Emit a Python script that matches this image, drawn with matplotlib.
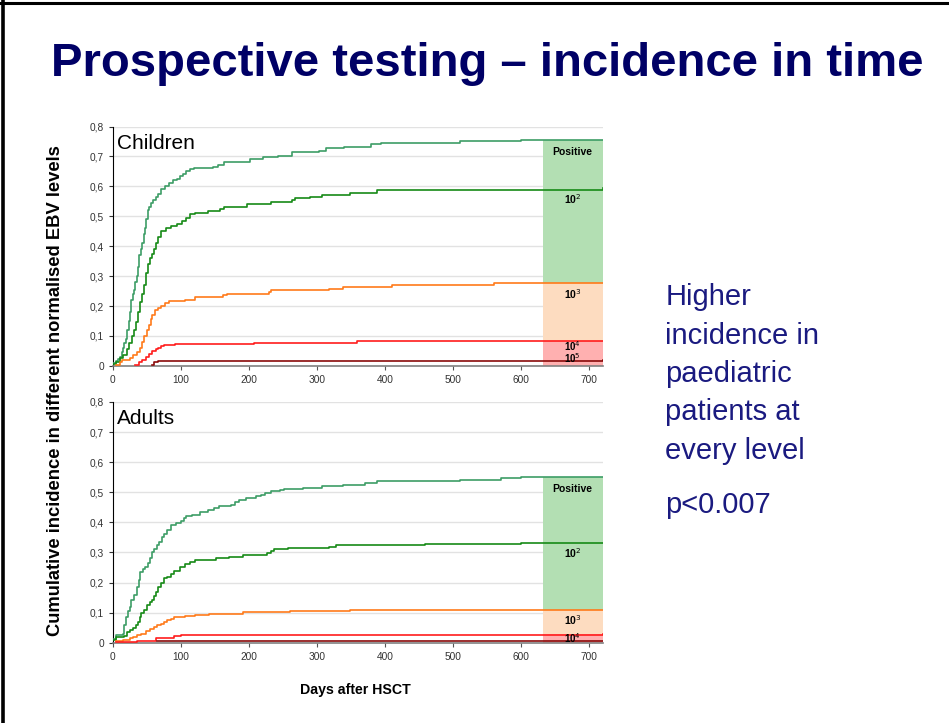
import matplotlib.pyplot as plt
from matplotlib.lines import Line2D

plt.rcParams['font.family'] = ['Liberation Sans', 'DejaVu Sans']

# cumulative incidence step curves (day, value)
child_pos_days = [0, 5, 8, 10, 13, 15, 17, 19, 21, 23, 25, 27, 29, 31, 33, 35, 37, 39, 41, 43, 45, 47, 49, 51, 53, 56, 59, 63, 67, 71, 76, 82, 88, 94, 98, 103, 108, 113, 119, 147, 155, 164, 202, 220, 243, 263, 303, 313, 340, 379, 394, 510, 600, 720]
child_pos_vals = [0.008, 0.015, 0.022, 0.03, 0.045, 0.06, 0.075, 0.09, 0.12, 0.15, 0.18, 0.22, 0.24, 0.255, 0.28, 0.30, 0.33, 0.37, 0.39, 0.41, 0.44, 0.46, 0.49, 0.52, 0.53, 0.545, 0.555, 0.565, 0.575, 0.59, 0.60, 0.61, 0.62, 0.625, 0.635, 0.64, 0.65, 0.657, 0.663, 0.666, 0.672, 0.682, 0.691, 0.699, 0.703, 0.714, 0.719, 0.728, 0.733, 0.74, 0.745, 0.752, 0.755, 0.756]

child_e2_days = [0, 5, 10, 15, 20, 24, 28, 31, 34, 37, 40, 43, 46, 49, 51, 54, 57, 60, 63, 66, 70, 78, 86, 94, 101, 108, 113, 121, 140, 157, 164, 197, 233, 263, 268, 290, 308, 349, 389, 720]
child_e2_vals = [0.005, 0.012, 0.025, 0.035, 0.055, 0.075, 0.10, 0.12, 0.148, 0.18, 0.215, 0.24, 0.27, 0.31, 0.34, 0.36, 0.375, 0.39, 0.41, 0.43, 0.45, 0.46, 0.467, 0.475, 0.484, 0.495, 0.506, 0.512, 0.518, 0.523, 0.532, 0.54, 0.549, 0.553, 0.56, 0.566, 0.572, 0.579, 0.587, 0.594]

child_e3_days = [5, 10, 13, 25, 30, 35, 40, 43, 46, 50, 53, 56, 58, 62, 66, 71, 76, 83, 106, 121, 162, 167, 230, 233, 318, 339, 410, 561, 720]
child_e3_vals = [0.004, 0.012, 0.019, 0.025, 0.035, 0.045, 0.06, 0.08, 0.10, 0.12, 0.137, 0.155, 0.17, 0.185, 0.193, 0.20, 0.21, 0.217, 0.221, 0.23, 0.238, 0.241, 0.246, 0.252, 0.258, 0.265, 0.27, 0.277, 0.277]

child_e4_days = [33, 38, 43, 48, 53, 58, 63, 66, 70, 75, 91, 207, 359, 720]
child_e4_vals = [0.003, 0.013, 0.02, 0.03, 0.04, 0.05, 0.055, 0.06, 0.066, 0.07, 0.072, 0.078, 0.083, 0.084]

child_e5_days = [58, 61, 66, 106, 720]
child_e5_vals = [0.003, 0.013, 0.016, 0.017, 0.018]

adult_pos_days = [2, 5, 15, 17, 19, 22, 25, 27, 31, 35, 38, 40, 44, 47, 51, 55, 58, 61, 65, 68, 72, 75, 80, 85, 92, 100, 104, 108, 116, 128, 140, 148, 156, 174, 180, 186, 196, 210, 217, 224, 232, 245, 252, 280, 308, 338, 370, 388, 510, 570, 600, 720]
adult_pos_vals = [0.013, 0.025, 0.03, 0.06, 0.085, 0.105, 0.12, 0.141, 0.16, 0.186, 0.21, 0.236, 0.245, 0.253, 0.265, 0.28, 0.30, 0.31, 0.325, 0.336, 0.35, 0.36, 0.375, 0.392, 0.398, 0.405, 0.415, 0.42, 0.425, 0.433, 0.44, 0.447, 0.453, 0.458, 0.468, 0.475, 0.482, 0.486, 0.492, 0.498, 0.503, 0.508, 0.512, 0.515, 0.52, 0.525, 0.53, 0.536, 0.542, 0.546, 0.55, 0.55]

adult_e2_days = [2, 5, 17, 20, 25, 30, 34, 37, 40, 42, 46, 50, 54, 58, 61, 63, 67, 70, 75, 80, 85, 90, 98, 106, 113, 121, 151, 171, 191, 227, 232, 237, 257, 318, 328, 459, 600, 720]
adult_e2_vals = [0.008, 0.019, 0.024, 0.035, 0.042, 0.05, 0.058, 0.07, 0.085, 0.10, 0.11, 0.125, 0.135, 0.141, 0.155, 0.169, 0.185, 0.197, 0.214, 0.22, 0.23, 0.238, 0.253, 0.261, 0.268, 0.275, 0.28, 0.285, 0.292, 0.299, 0.305, 0.31, 0.314, 0.319, 0.324, 0.327, 0.33, 0.332]

adult_e3_days = [5, 15, 25, 30, 36, 42, 48, 54, 60, 65, 70, 75, 80, 85, 90, 106, 121, 141, 191, 260, 348, 720]
adult_e3_vals = [0.006, 0.01, 0.015, 0.019, 0.025, 0.03, 0.038, 0.045, 0.052, 0.058, 0.063, 0.068, 0.075, 0.08, 0.086, 0.088, 0.092, 0.097, 0.102, 0.105, 0.108, 0.108]

adult_e4_days = [5, 35, 63, 90, 100, 720]
adult_e4_vals = [0.002, 0.006, 0.017, 0.021, 0.027, 0.029]

adult_e5_days = [65, 720]
adult_e5_vals = [0.005, 0.005]

col_pos = '#3d9d66'
col_e2 = '#168a16'
col_e3 = '#ff7a1a'
col_e4 = '#ff1c1c'
col_e5 = '#8a0a0a'

band_green = '#b3dfb3'
band_peach = '#fddcc0'
band_red = '#ffb0b0'
band_start = 632

# band labels: (text, y, size) per panel
child_tags = [('Positive', 0.716, 7.5), ('10$^2$', 0.559, 7.5), ('10$^3$', 0.241, 7.5),
              ('10$^4$', 0.066, 7), ('10$^5$', 0.025, 7)]
adult_tags = [('Positive', 0.511, 7.5), ('10$^2$', 0.299, 7.5), ('10$^3$', 0.076, 7.5),
              ('10$^4$', 0.016, 7)]

fig = plt.figure(figsize=(9.49, 7.23), dpi=100)

# slide frame on top and left
fig.add_artist(Line2D([0, 1], [0.9965, 0.9965], color='black', lw=2.2, transform=fig.transFigure))
fig.add_artist(Line2D([0.0035, 0.0035], [0, 1], color='black', lw=2.6, transform=fig.transFigure))

fig.text(0.513, 0.912, 'Prospective testing \u2013 incidence in time', ha='center', va='center',
         fontsize=34, fontweight='bold', color='#000066')

ax1 = fig.add_axes([0.119, 0.494, 0.516, 0.331])
ax2 = fig.add_axes([0.119, 0.111, 0.516, 0.333])


def draw_panel(ax, name, series, bands, tags):
    for lo, hi, c in bands:
        ax.fill_between([band_start, 720], lo, hi, color=c, lw=0, zorder=1)
    for d, v, c in series:
        ax.step(d, v, where='post', color=c, lw=1.2, zorder=3)
    for t, y, fs in tags:
        ax.text(676, y, t, ha='center', va='center', fontsize=fs, fontweight='bold', zorder=4)
    ax.set_xlim(0, 720)
    ax.set_ylim(0, 0.8)
    ax.set_xticks(range(0, 701, 100))
    ax.set_yticks([i / 10 for i in range(9)])
    ax.set_yticklabels(['0'] + ['0,%d' % i for i in range(1, 9)])
    ax.tick_params(labelsize=7.3, length=3, width=0.8, colors='#333333')
    ax.tick_params(axis='x', colors='#555555', labelcolor='#333333')
    ax.yaxis.grid(True, color='#e2e2e2', lw=1, zorder=0)
    ax.set_axisbelow(True)
    for s in ['top', 'right']:
        ax.spines[s].set_visible(False)
    ax.spines['left'].set_color('black')
    ax.spines['bottom'].set_color('#808080')
    ax.spines['bottom'].set_linewidth(1.2)
    ax.text(0.008, 0.97, name, transform=ax.transAxes, ha='left', va='top', fontsize=15)


draw_panel(ax1, 'Children',
           [(child_pos_days, child_pos_vals, col_pos), (child_e2_days, child_e2_vals, col_e2),
            (child_e3_days, child_e3_vals, col_e3), (child_e4_days, child_e4_vals, col_e4),
            (child_e5_days, child_e5_vals, col_e5)],
           [(child_e3_vals[-1], child_pos_vals[-1], band_green),
            (child_e4_vals[-1], child_e3_vals[-1], band_peach),
            (0, child_e4_vals[-1], band_red)],
           child_tags)

draw_panel(ax2, 'Adults',
           [(adult_pos_days, adult_pos_vals, col_pos), (adult_e2_days, adult_e2_vals, col_e2),
            (adult_e3_days, adult_e3_vals, col_e3), (adult_e4_days, adult_e4_vals, col_e4),
            (adult_e5_days, adult_e5_vals, col_e5)],
           [(adult_e3_vals[-1], adult_pos_vals[-1], band_green),
            (adult_e4_vals[-1], adult_e3_vals[-1], band_peach),
            (0, adult_e4_vals[-1], band_red)],
           adult_tags)

fig.text(0.375, 0.046, 'Days after HSCT', ha='center', va='center', fontsize=10.2, fontweight='bold')
fig.text(0.058, 0.46, 'Cumulative incidence in different normalised EBV levels', rotation=90,
         ha='center', va='center', fontsize=13.2, fontweight='bold')

fig.text(0.701, 0.608, 'Higher\nincidence in\npaediatric\npatients at\nevery level', ha='left', va='top',
         fontsize=21, color='#1a1a80', linespacing=1.47)
fig.text(0.701, 0.302, 'p<0.007', ha='left', va='center', fontsize=21, color='#1a1a80')

fig.savefig('out.png', dpi=100)
